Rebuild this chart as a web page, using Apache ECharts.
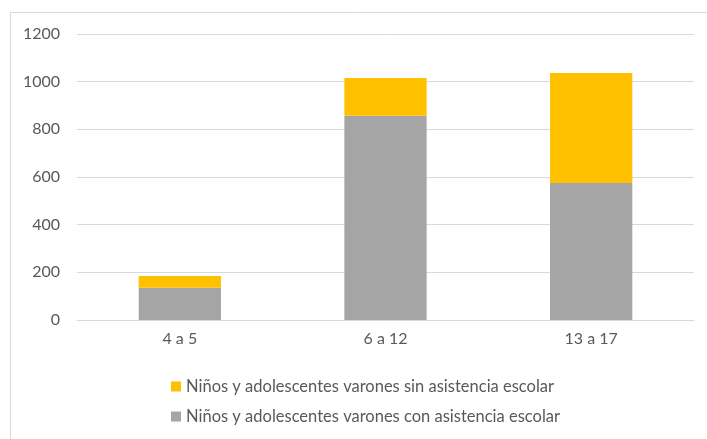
<!DOCTYPE html>
<html><head><meta charset="utf-8">
<script src="https://cdn.jsdelivr.net/npm/echarts@6/dist/echarts.min.js"></script>
<style>html,body{margin:0;padding:0;background:#fff}#c{width:707px;height:439px}</style>
</head><body><div id="c"></div>
<script>
var categories = ['4 a 5', '6 a 12', '13 a 17'];
var conAsistencia = [135, 857, 575];
var sinAsistencia = [50, 158, 461];
var nameSin = 'Niños y adolescentes varones sin asistencia escolar';
var nameCon = 'Niños y adolescentes varones con asistencia escolar';

var chart = echarts.init(document.getElementById('c'));
var font = 'Lato, sans-serif';
chart.setOption({
  animation: false,
  textStyle: {fontFamily: font},
  graphic: [{type: 'rect', shape: {x: 10.5, y: 12.5, width: 720, height: 440}, style: {fill: 'none', stroke: '#d9d9d9', lineWidth: 1}}],
  grid: {left: 77, right: 13, top: 34, bottom: 119},
  xAxis: {type: 'category', data: categories,
    axisLine: {lineStyle: {color: '#d9d9d9'}}, axisTick: {show: false},
    axisLabel: {color: '#595959', fontSize: 16, margin: 11, fontFamily: font}},
  yAxis: {type: 'value', min: 0, max: 1200, interval: 200,
    axisLine: {show: false}, axisTick: {show: false},
    splitLine: {lineStyle: {color: '#d9d9d9'}},
    axisLabel: {color: '#595959', fontSize: 16, margin: 17, fontFamily: font,
      formatter: function (v) { return String(v); }}},
  legend: {orient: 'vertical', left: 166, top: 373, itemGap: 13, itemWidth: 10, itemHeight: 10,
    icon: 'rect', data: [nameSin, nameCon],
    textStyle: {color: '#595959', fontSize: 16.5, fontFamily: font}},
  series: [
    {name: nameCon, type: 'bar', stack: 's', data: conAsistencia, barWidth: '40%', itemStyle: {color: '#a5a5a5'}},
    {name: nameSin, type: 'bar', stack: 's', data: sinAsistencia, barWidth: '40%', itemStyle: {color: '#ffc000'}}
  ]
});
</script></body></html>
